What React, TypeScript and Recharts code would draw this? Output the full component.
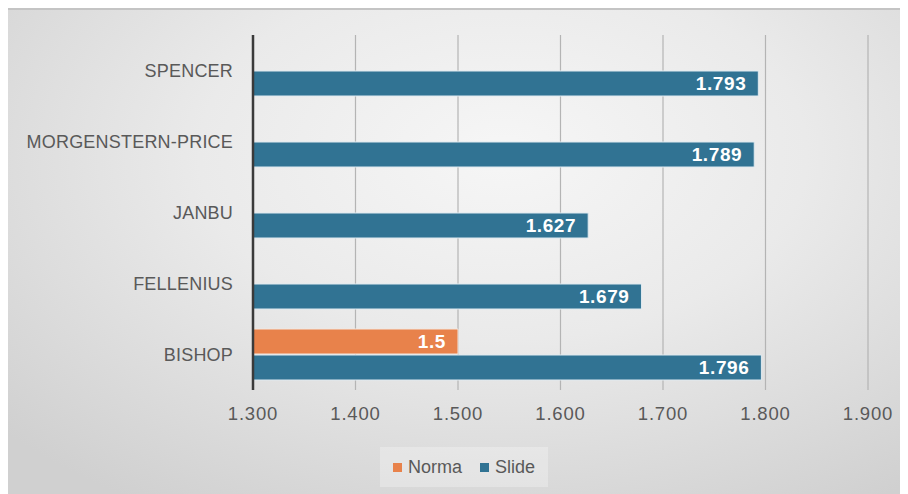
import {
  BarChart,
  Bar,
  XAxis,
  YAxis,
  CartesianGrid,
  Legend,
  LabelList,
} from "recharts";

const methods = ["SPENCER", "MORGENSTERN-PRICE", "JANBU", "FELLENIUS", "BISHOP"];
const normaValues: (number | null)[] = [null, null, null, null, 1.5];
const slideValues = [1.793, 1.789, 1.627, 1.679, 1.796];
const xTicks = [1.3, 1.4, 1.5, 1.6, 1.7, 1.8, 1.9];

const NORMA_COLOR = "#e8824b";
const SLIDE_COLOR = "#317393";
const FONT = '"Liberation Sans", Arial, sans-serif';

const data = methods.map((method, i) => ({
  method,
  Norma: normaValues[i],
  Slide: slideValues[i],
}));

const labelStyle = {
  fill: "#ffffff",
  fontSize: 19,
  fontWeight: 700,
  letterSpacing: 0.6,
  fontFamily: FONT,
};

function LegendBox() {
  const items = [
    { name: "Norma", color: NORMA_COLOR },
    { name: "Slide", color: SLIDE_COLOR },
  ];
  return (
    <div style={{ display: "flex", paddingTop: 9 }}>
      <div
        style={{
          marginLeft: 372,
          width: 168,
          height: 40,
          background: "rgba(255,255,255,0.28)",
          display: "flex",
          alignItems: "center",
          justifyContent: "center",
          gap: 18,
          fontFamily: FONT,
          fontSize: 18,
          color: "#595959",
        }}
      >
        {items.map((it) => (
          <div key={it.name} style={{ display: "flex", alignItems: "center", gap: 6 }}>
            <span style={{ width: 9, height: 9, background: it.color, display: "inline-block" }} />
            <span>{it.name}</span>
          </div>
        ))}
      </div>
    </div>
  );
}

export default function App() {
  return (
    <div
      style={{
        width: 900,
        height: 486,
        background:
          "radial-gradient(ellipse 75% 85% at 55% 30%, #f6f6f6 0%, #eaeaea 45%, #d0d0d0 100%)",
        boxShadow: "inset 0 2px 0 #c4c4c4",
      }}
    >
      <BarChart
        width={900}
        height={486}
        data={data}
        layout="vertical"
        margin={{ top: 27, right: 40, bottom: 8, left: 0 }}
        barCategoryGap={10}
        barGap={1}
      >
        <CartesianGrid horizontal={false} stroke="#b4b4b4" strokeWidth={1.2} />
        <XAxis
          type="number"
          domain={[1.3, 1.9]}
          ticks={xTicks}
          tickFormatter={(v: number) => v.toFixed(3)}
          axisLine={false}
          tickLine={false}
          tickMargin={11}
          height={48}
          tick={{ fill: "#595959", fontSize: 18.5, letterSpacing: 0.8, fontFamily: FONT }}
        />
        <YAxis
          type="category"
          dataKey="method"
          width={245}
          axisLine={{ stroke: "#3a3a3a", strokeWidth: 2.5 }}
          tickLine={false}
          tickMargin={14}
          tick={{ fill: "#595959", fontSize: 18, letterSpacing: 0.2, fontFamily: FONT }}
        />
        <Legend verticalAlign="bottom" height={48} wrapperStyle={{ left: 0, width: 900 }} content={() => <LegendBox />} />
        <Bar dataKey="Norma" fill={NORMA_COLOR} stroke="#f3e6de" strokeWidth={1} isAnimationActive={false}>
          <LabelList
            dataKey="Norma"
            position="insideRight"
            offset={12}
            formatter={(v: any) => (v == null ? "" : v)}
            style={labelStyle}
          />
        </Bar>
        <Bar dataKey="Slide" fill={SLIDE_COLOR} stroke="#dfeaf0" strokeWidth={1} isAnimationActive={false}>
          <LabelList dataKey="Slide" position="insideRight" offset={12} style={labelStyle} />
        </Bar>
      </BarChart>
    </div>
  );
}
